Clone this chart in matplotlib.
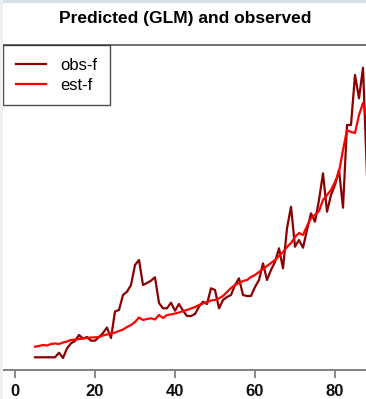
import numpy as np
import matplotlib as mpl
mpl.use('Agg')
import matplotlib.pyplot as plt
from matplotlib.patches import Rectangle

title = 'Predicted (GLM) and observed'
age = np.arange(5, 89)

obs_f = [1.27, 1.27, 1.27, 1.27, 1.27, 1.27, 1.73, 1.2, 2.17, 2.67,
         2.9, 3.5, 3.15, 3.3, 2.93, 2.93, 3.3, 3.7, 4.25, 3.2,
         5.85, 6.0, 7.5, 7.83, 8.5, 10.5, 11.0, 8.5, 8.7, 8.93,
         9.27, 6.7, 6.17, 6.17, 6.73, 5.93, 6.6, 5.93, 5.4, 5.4,
         5.6, 6.33, 6.83, 6.6, 8.17, 8.0, 6.17, 7.0, 7.3, 7.5,
         8.5, 9.17, 7.5, 7.4, 7.4, 8.3, 9.0, 10.67, 9.0, 10.0,
         10.8, 12.17, 10.17, 14.17, 16.33, 12.33, 13.0, 12.23, 14.0, 15.67,
         14.83, 17.0, 19.67, 15.83, 17.5, 18.5, 20.0, 16.23, 24.5, 24.5,
         29.5, 27.17, 30.23, 19.5]

est_f = [2.33, 2.4, 2.5, 2.45, 2.6, 2.65, 2.6, 2.75, 2.85, 3.0,
         3.05, 3.1, 3.15, 3.2, 3.25, 3.27, 3.3, 3.45, 3.55, 3.65,
         3.75, 3.9, 4.05, 4.3, 4.5, 4.8, 5.25, 5.0, 5.1, 5.17,
         5.05, 5.5, 5.2, 5.5, 5.55, 5.65, 5.75, 5.9, 6.0, 6.15,
         6.3, 6.5, 6.65, 6.8, 6.95, 7.0, 7.17, 7.4, 7.8, 8.2,
         8.5, 8.7, 8.9, 9.0, 9.3, 9.5, 9.8, 10.1, 10.4, 10.7,
         11.0, 11.4, 11.8, 12.3, 12.7, 13.3, 13.7, 13.5, 14.4, 15.2,
         15.5, 15.9, 17.0, 17.5, 18.0, 18.8, 19.8, 22.0, 24.0, 23.8,
         23.7, 25.5, 26.7, 25.0]

xticks = [0, 20, 40, 60, 80]

W, H = 366, 399
fig = plt.figure(figsize=(W / 100, H / 100), dpi=100)
fig.patches.append(Rectangle((0, 1 - 3 / H), 1, 3 / H, transform=fig.transFigure,
                             facecolor='#d6dfe5', edgecolor='none'))
fig.patches.append(Rectangle((0, 0), 3 / W, 1, transform=fig.transFigure,
                             facecolor='#f0f0f0', edgecolor='none'))

ax = fig.add_axes([3 / W, (H - 370) / H, 363 / W, 325 / H])
ax.plot(age, obs_f, color='#8b0000', lw=1.6, label='obs-f')
ax.plot(age, est_f, color='#ff0000', lw=1.6, label='est-f')
ax.set_xlim(-3, 87.75)
ax.set_ylim(0, 32.5)

for s in ['left', 'right']:
    ax.spines[s].set_visible(False)
ax.spines['top'].set_color('#666666')
ax.spines['top'].set_linewidth(1.3)
ax.spines['bottom'].set_color('#777777')
ax.spines['bottom'].set_linewidth(1.3)
ax.set_yticks([])
ax.set_xticks(xticks)
ax.tick_params(axis='x', direction='out', length=6, width=1.2, color='#777777',
               labelsize=12, labelcolor='#111111', pad=4)
for t in ax.get_xticklabels():
    t.set_fontfamily('Liberation Sans')
    t.set_fontweight('bold')

leg = ax.legend(loc='upper left', bbox_to_anchor=(0, 1), frameon=True, fancybox=False,
                borderaxespad=0, prop={'family': 'Liberation Sans', 'size': 12},
                handlelength=1.8, handletextpad=0.9, labelspacing=0.3,
                borderpad=0.75)
leg.get_frame().set_edgecolor('#222222')
leg.get_frame().set_linewidth(1.0)

fig.text(185 / W, 1 - 18 / H, title, ha='center', va='center',
         fontsize=12.5, fontweight='bold', family='Liberation Sans')

plt.savefig('out.png', dpi=100)
